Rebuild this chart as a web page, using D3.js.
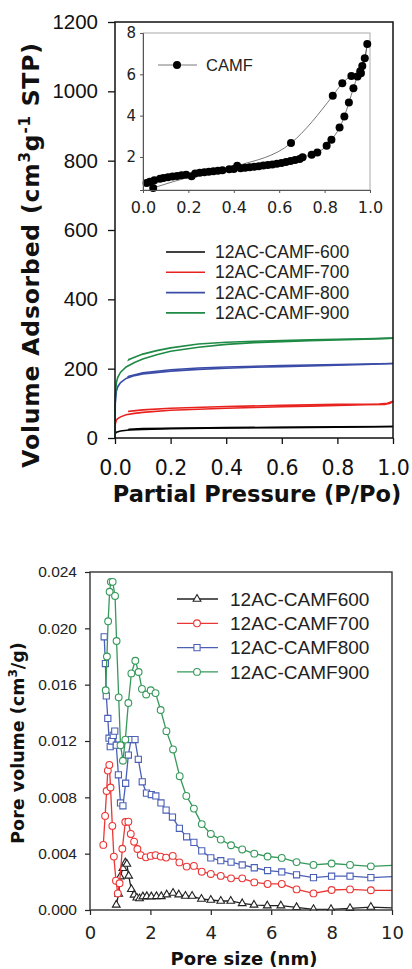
<!DOCTYPE html>
<meta charset="utf-8">
<style>
body { margin: 0; background: #fff; }
svg { display: block; }
.frame { fill: none; stroke: #111; stroke-width: 1.5px; }
.iso { fill: none; stroke-width: 1.6px; }
.psd { fill: none; stroke-width: 1.3px; }
</style>
<body>
<script src="https://cdn.jsdelivr.net/npm/d3@7"></script>
<script>
// ---- top chart: N2 isotherms (P/Po, volume) ----
var isoNames = ["12AC-CAMF-600", "12AC-CAMF-700", "12AC-CAMF-800", "12AC-CAMF-900"];
var isoColors = ["#000000", "#e8231f", "#3b4ca8", "#1e8a45"];

var ads600 = [[0,0],[0.001,12],[0.005,17],[0.02,20],[0.05,23],[0.1,25],[0.2,27],[0.4,29],[0.6,30],[0.8,31],[1.0,33]];
var des600 = [[1.0,33],[0.8,32],[0.6,31],[0.4,30],[0.2,28],[0.1,27],[0.05,25],[0.05,27]];
var ads700 = [[0,0],[0.001,40],[0.005,52],[0.01,56],[0.02,61],[0.04,67],[0.07,71],[0.1,74],[0.2,80],[0.3,83],[0.4,86],[0.5,88],[0.6,90],[0.7,92],[0.8,94],[0.9,96],[0.97,97],[0.99,100],[1.0,106]];
var des700 = [[1.0,106],[0.98,100],[0.95,98],[0.8,97],[0.6,94],[0.4,91],[0.2,86],[0.1,81],[0.05,77],[0.05,79]];
var ads800 = [[0,0],[0.001,100],[0.005,135],[0.01,148],[0.02,160],[0.04,172],[0.07,180],[0.1,185],[0.2,193],[0.3,198],[0.4,201],[0.5,204],[0.6,206],[0.7,208],[0.8,210],[0.9,212],[1.0,215]];
var des800 = [[1.0,215],[0.8,212],[0.6,209],[0.4,205],[0.3,202],[0.2,197],[0.1,188],[0.05,178],[0.045,176]];
var ads900 = [[0,0],[0.001,120],[0.005,160],[0.01,175],[0.02,190],[0.04,205],[0.07,218],[0.1,228],[0.15,240],[0.2,250],[0.3,262],[0.4,270],[0.5,275],[0.6,278],[0.7,281],[0.8,283],[0.9,285],[1.0,288]];
var des900 = [[1.0,288],[0.9,286],[0.8,285],[0.7,283],[0.6,281],[0.5,279],[0.4,276],[0.3,271],[0.2,260],[0.15,252],[0.1,242],[0.07,233],[0.055,228],[0.05,226],[0.052,229]];

var isoTicksY = [0, 200, 400, 600, 800, 1000, 1200];
var isoTicksX = [0, 0.2, 0.4, 0.6, 0.8, 1.0];

// inset: CAMF isotherm
var camfAds = [[0.016,0.74],[0.03,0.80],[0.05,0.87],[0.075,0.95],[0.09,0.98],[0.11,1.02],[0.13,1.05],[0.15,1.08],[0.17,1.12],[0.19,1.14],[0.23,1.20],[0.25,1.23],[0.27,1.26],[0.29,1.28],[0.31,1.31],[0.33,1.33],[0.35,1.36],[0.38,1.40],[0.40,1.42],[0.43,1.45],[0.45,1.48],[0.47,1.50],[0.49,1.53],[0.51,1.55],[0.53,1.58],[0.55,1.61],[0.57,1.63],[0.59,1.67],[0.61,1.71],[0.63,1.76],[0.65,1.80],[0.67,1.85],[0.69,1.90],[0.703,1.98],[0.743,2.11],[0.768,2.22],[0.809,2.54],[0.83,2.83],[0.866,3.42],[0.887,3.96],[0.907,4.63],[0.927,5.33],[0.945,5.90],[0.957,6.15],[0.966,6.40],[0.977,6.78],[0.988,7.47]];
var camfDes = [[0.988,7.47],[0.96,6.05],[0.918,5.92],[0.878,5.57],[0.836,4.96],[0.652,2.67],[0.415,1.57],[0.214,1.06],[0.045,0.50]];
var insetTicksY = [2, 4, 6, 8];
var insetTicksX = [0, 0.2, 0.4, 0.6, 0.8, 1.0];

// ---- bottom chart: pore size distribution (nm, cm3/g) ----
var psdNames = ["12AC-CAMF600", "12AC-CAMF700", "12AC-CAMF800", "12AC-CAMF900"];
var psdColors = ["#222222", "#ec3535", "#4a5fb6", "#35995a"];
var psdShapes = [d3.symbolTriangle, d3.symbolCircle, d3.symbolSquare, d3.symbolCircle];

var psd600 = [[0.87,0.00036],[0.95,0.00114],[1.0,0.00237],[1.09,0.00296],[1.17,0.00336],[1.22,0.00327],[1.28,0.00242],[1.37,0.00147],[1.46,0.00107],[1.55,0.00087],[1.64,0.00082],[1.75,0.00095],[1.88,0.00097],[2.03,0.00095],[2.20,0.00097],[2.36,0.00097],[2.54,0.00109],[2.75,0.00121],[2.94,0.00109],[3.16,0.00099],[3.38,0.00099],[3.69,0.00078],[4.0,0.00071],[4.33,0.00064],[4.66,0.00064],[5.04,0.00047],[5.43,0.00036],[5.87,0.00031],[6.32,0.00031],[6.84,0.00019],[7.40,0.00005],[7.98,0.00005],[8.61,0.00012],[9.30,0.00021],[10.3,0.00012]];
var psd700 = [[0.44,0.00462],[0.50,0.00668],[0.55,0.00845],[0.59,0.0099],[0.64,0.0103],[0.68,0.0087],[0.74,0.00597],[0.79,0.00379],[0.86,0.00208],[0.92,0.00118],[0.98,0.00190],[1.07,0.00435],[1.17,0.00625],[1.27,0.00627],[1.35,0.0054],[1.46,0.00485],[1.57,0.00433],[1.68,0.0039],[1.85,0.00374],[2.01,0.00384],[2.17,0.0039],[2.34,0.00379],[2.52,0.00372],[2.74,0.00384],[2.96,0.00338],[3.20,0.00308],[3.44,0.00313],[3.70,0.00272],[4.0,0.00256],[4.33,0.00242],[4.67,0.00225],[5.04,0.00225],[5.44,0.00196],[5.88,0.00185],[6.35,0.00185],[6.84,0.00146],[7.40,0.00118],[8.0,0.00142],[8.61,0.00146],[9.30,0.0014],[10.3,0.0014]];
var psd800 = [[0.47,0.0194],[0.51,0.0175],[0.54,0.0152],[0.59,0.0136],[0.63,0.0122],[0.67,0.0116],[0.72,0.0120],[0.77,0.0124],[0.82,0.0127],[0.87,0.0117],[0.94,0.0096],[1.01,0.0076],[1.09,0.0074],[1.18,0.0090],[1.27,0.0110],[1.36,0.0121],[1.49,0.0121],[1.60,0.0107],[1.73,0.0091],[1.87,0.0083],[2.03,0.0082],[2.18,0.0081],[2.35,0.0076],[2.52,0.0071],[2.73,0.0066],[2.96,0.0058],[3.20,0.0052],[3.44,0.0048],[3.70,0.0042],[4.0,0.0037],[4.33,0.0035],[4.67,0.0034],[5.04,0.0032],[5.44,0.0030],[5.88,0.0028],[6.35,0.0027],[6.84,0.0025],[7.40,0.0023],[8.0,0.0024],[8.61,0.0024],[9.30,0.0023],[10.3,0.0024]];
var psd900 = [[0.52,0.0156],[0.56,0.0180],[0.60,0.0205],[0.65,0.0226],[0.69,0.0233],[0.75,0.0233],[0.83,0.0223],[0.88,0.0191],[0.95,0.0151],[1.01,0.0117],[1.09,0.0106],[1.17,0.0121],[1.27,0.0147],[1.37,0.0168],[1.50,0.0177],[1.61,0.0169],[1.72,0.0157],[1.86,0.0153],[2.01,0.0156],[2.17,0.0154],[2.34,0.0142],[2.53,0.0127],[2.75,0.0114],[2.97,0.0095],[3.19,0.0081],[3.44,0.0072],[3.70,0.0061],[4.0,0.0054],[4.33,0.0050],[4.67,0.0046],[5.04,0.0043],[5.44,0.0040],[5.88,0.0038],[6.35,0.0037],[6.84,0.0034],[7.40,0.0032],[8.0,0.0033],[8.61,0.0032],[9.30,0.0031],[10.3,0.0032]];

var psdTicksY = [0, 0.004, 0.008, 0.012, 0.016, 0.020, 0.024];
var psdTicksX = [0, 2, 4, 6, 8, 10];

var svg = d3.select("body").append("svg")
    .attr("width", 412).attr("height", 969);

// ================= top chart =================
var topBox = {left: 115, right: 393, top: 22, bottom: 438};
var x1 = d3.scaleLinear().domain([0, 1]).range([topBox.left, topBox.right]);
var y1 = d3.scaleLinear().domain([0, 1200]).range([topBox.bottom, topBox.top]);

var line1 = d3.line()
    .x(function(d) { return x1(d[0]); })
    .y(function(d) { return y1(d[1]); });

var isoSeries = [[ads600, des600], [ads700, des700], [ads800, des800], [ads900, des900]];
isoSeries.forEach(function(s, i) {
  s.forEach(function(branch) {
    svg.append("path").attr("class", "iso")
      .attr("d", line1(branch))
      .attr("stroke", isoColors[i]);
  });
});

var yAx1 = svg.append("g")
    .attr("transform", "translate(" + topBox.left + ",0)")
    .call(d3.axisLeft(y1).tickValues(isoTicksY).tickSize(7).tickPadding(10).tickFormat(d3.format("d")));
yAx1.selectAll("text").attr("font-family", "Liberation Sans, Arial").attr("font-size", 20.5).attr("fill", "#111");

var xAx1 = svg.append("g")
    .attr("transform", "translate(0," + topBox.bottom + ")")
    .call(d3.axisBottom(x1).tickValues(isoTicksX).tickSize(6).tickPadding(16).tickFormat(d3.format(".1f")));
xAx1.selectAll("text").attr("font-family", "DejaVu Sans").attr("font-size", 20.5).attr("fill", "#111");

[yAx1, xAx1].forEach(function(a) {
  a.select(".domain").remove();
  a.selectAll("line").attr("stroke", "#111").attr("stroke-width", 1.3);
});

svg.append("rect").attr("class", "frame")
  .attr("x", topBox.left).attr("y", topBox.top)
  .attr("width", topBox.right - topBox.left).attr("height", topBox.bottom - topBox.top);

svg.append("text")
  .attr("x", 257).attr("y", 502)
  .attr("text-anchor", "middle")
  .attr("font-family", "DejaVu Sans").attr("font-weight", "bold").attr("font-size", 22.5)
  .attr("fill", "#111")
  .text("Partial Pressure (P/Po)");

var yt1 = svg.append("text")
  .attr("transform", "translate(31,255) rotate(-90)")
  .attr("text-anchor", "middle").attr("dy", "0.35em")
  .attr("font-family", "DejaVu Sans").attr("font-weight", "bold").attr("font-size", 23.5)
  .attr("letter-spacing", 0.8)
  .attr("fill", "#111");
yt1.append("tspan").text("Volume Adsorbed (cm");
yt1.append("tspan").attr("baseline-shift", "super").attr("font-size", 15).text("3");
yt1.append("tspan").text("g");
yt1.append("tspan").attr("baseline-shift", "super").attr("font-size", 15).text("-1");
yt1.append("tspan").text(" STP)");

// legend
isoNames.forEach(function(n, i) {
  var ly = 252 + i * 20.3;
  svg.append("line").attr("x1", 166).attr("x2", 205).attr("y1", ly).attr("y2", ly)
    .attr("stroke", isoColors[i]).attr("stroke-width", 1.6);
  svg.append("text").attr("x", 215).attr("y", ly).attr("dy", "0.35em")
    .attr("font-family", "Liberation Sans, Arial").attr("font-size", 17.5).attr("fill", "#222")
    .text(n);
});

// ---- inset ----
var ins = {left: 143, right: 370, top: 33, bottom: 190};
svg.append("rect").attr("x", ins.left).attr("y", ins.top)
  .attr("width", ins.right - ins.left).attr("height", ins.bottom - ins.top)
  .attr("fill", "#fff").attr("stroke", "#aaa").attr("stroke-width", 1);

var x2 = d3.scaleLinear().domain([0, 1]).range([ins.left, ins.right]);
var y2 = d3.scaleLinear().domain([0.4, 8]).range([ins.bottom, ins.top]);

var line2 = d3.line().curve(d3.curveMonotoneX)
    .x(function(d) { return x2(d[0]); })
    .y(function(d) { return y2(d[1]); });

svg.append("path").attr("d", line2(camfAds))
  .attr("fill", "none").attr("stroke", "#555").attr("stroke-width", 0.8);
svg.append("path").attr("d", line2(camfDes.slice().sort(function(a, b) { return a[0] - b[0]; })))
  .attr("fill", "none").attr("stroke", "#555").attr("stroke-width", 0.8);

svg.append("g").selectAll("circle")
  .data(camfAds.concat(camfDes.slice(1)))
  .join("circle")
  .attr("cx", function(d) { return x2(d[0]); })
  .attr("cy", function(d) { return y2(d[1]); })
  .attr("r", 4).attr("fill", "#000");

var yAx2 = svg.append("g")
    .attr("transform", "translate(" + ins.left + ",0)")
    .call(d3.axisLeft(y2).tickValues(insetTicksY).tickSize(3).tickPadding(4).tickFormat(d3.format("d")));
var xAx2 = svg.append("g")
    .attr("transform", "translate(0," + ins.bottom + ")")
    .call(d3.axisBottom(x2).tickValues(insetTicksX).tickSize(3).tickPadding(9).tickFormat(d3.format(".1f")));
[yAx2, xAx2].forEach(function(a) {
  a.select(".domain").attr("stroke", "#555").attr("stroke-width", 1);
  a.selectAll("line").attr("stroke", "#555");
  a.selectAll("text").attr("font-family", "DejaVu Sans").attr("font-size", 16).attr("fill", "#222");
});
yAx2.selectAll("text").attr("font-size", 15);

svg.append("line").attr("x1", 158).attr("x2", 197).attr("y1", 65).attr("y2", 65)
  .attr("stroke", "#555").attr("stroke-width", 0.8);
svg.append("circle").attr("cx", 177).attr("cy", 65).attr("r", 4).attr("fill", "#000");
svg.append("text").attr("x", 206).attr("y", 65).attr("dy", "0.35em")
  .attr("font-family", "Liberation Sans, Arial").attr("font-size", 16.5).attr("fill", "#222")
  .text("CAMF");

// ================= bottom chart =================
var bot = {left: 90, right: 392, top: 572, bottom: 910};
var x3 = d3.scaleLinear().domain([0, 10]).range([bot.left, bot.right]);
var y3 = d3.scaleLinear().domain([0, 0.024]).range([bot.bottom, bot.top]);

svg.append("clipPath").attr("id", "clipB").append("rect")
  .attr("x", bot.left).attr("y", bot.top)
  .attr("width", bot.right - bot.left).attr("height", bot.bottom - bot.top + 1);

var line3 = d3.line()
    .x(function(d) { return x3(d[0]); })
    .y(function(d) { return y3(d[1]); });

var plotB = svg.append("g").attr("clip-path", "url(#clipB)");
var psdSeries = [psd600, psd700, psd800, psd900];
psdSeries.forEach(function(s, i) {
  plotB.append("path").attr("class", "psd")
    .attr("d", line3(s)).attr("stroke", psdColors[i]);
  plotB.append("g").selectAll("path")
    .data(s)
    .join("path")
    .attr("transform", function(d) { return "translate(" + x3(d[0]) + "," + y3(d[1]) + ")"; })
    .attr("d", d3.symbol().type(psdShapes[i]).size(i === 2 ? 38 : (i === 0 ? 26 : 36)))
    .attr("fill", "#fff").attr("stroke", psdColors[i]).attr("stroke-width", 1.1);
});

var yAx3 = svg.append("g")
    .attr("transform", "translate(" + bot.left + ",0)")
    .call(d3.axisLeft(y3).tickValues(psdTicksY).tickSize(5).tickPadding(8).tickFormat(d3.format(".3f")));
yAx3.selectAll("text").attr("font-family", "Liberation Sans, Arial").attr("font-size", 15.5).attr("fill", "#222");

var xAx3 = svg.append("g")
    .attr("transform", "translate(0," + bot.bottom + ")")
    .call(d3.axisBottom(x3).tickValues(psdTicksX).tickSize(5).tickPadding(11).tickFormat(d3.format("d")));
xAx3.selectAll("text").attr("font-family", "DejaVu Sans").attr("font-size", 18).attr("fill", "#222");

[yAx3, xAx3].forEach(function(a) {
  a.select(".domain").remove();
  a.selectAll("line").attr("stroke", "#222").attr("stroke-width", 1.2);
});

svg.append("rect").attr("x", bot.left).attr("y", bot.top)
  .attr("width", bot.right - bot.left).attr("height", bot.bottom - bot.top)
  .attr("fill", "none").attr("stroke", "#333").attr("stroke-width", 1.4);

svg.append("text")
  .attr("x", 244).attr("y", 965)
  .attr("text-anchor", "middle")
  .attr("font-family", "DejaVu Sans").attr("font-weight", "bold").attr("font-size", 18)
  .attr("fill", "#111")
  .text("Pore size (nm)");

var yt3 = svg.append("text")
  .attr("transform", "translate(18,743) rotate(-90)")
  .attr("text-anchor", "middle").attr("dy", "0.35em")
  .attr("font-family", "DejaVu Sans").attr("font-weight", "bold").attr("font-size", 17.5)
  .attr("fill", "#111");
yt3.append("tspan").text("Pore volume (cm");
yt3.append("tspan").attr("baseline-shift", "super").attr("font-size", 12).text("3");
yt3.append("tspan").text("/g)");

// legend
psdNames.forEach(function(n, i) {
  var ly = 599 + i * 24.3;
  svg.append("line").attr("x1", 177).attr("x2", 218).attr("y1", ly).attr("y2", ly)
    .attr("stroke", psdColors[i]).attr("stroke-width", 1.3);
  svg.append("path")
    .attr("transform", "translate(197," + ly + ")")
    .attr("d", d3.symbol().type(psdShapes[i]).size(i === 2 ? 38 : (i === 0 ? 26 : 36)))
    .attr("fill", "#fff").attr("stroke", psdColors[i]).attr("stroke-width", 1.1);
  svg.append("text").attr("x", 230).attr("y", ly).attr("dy", "0.35em")
    .attr("font-family", "Liberation Sans, Arial").attr("font-size", 19).attr("fill", "#222")
    .text(n);
});
</script>
</body>
